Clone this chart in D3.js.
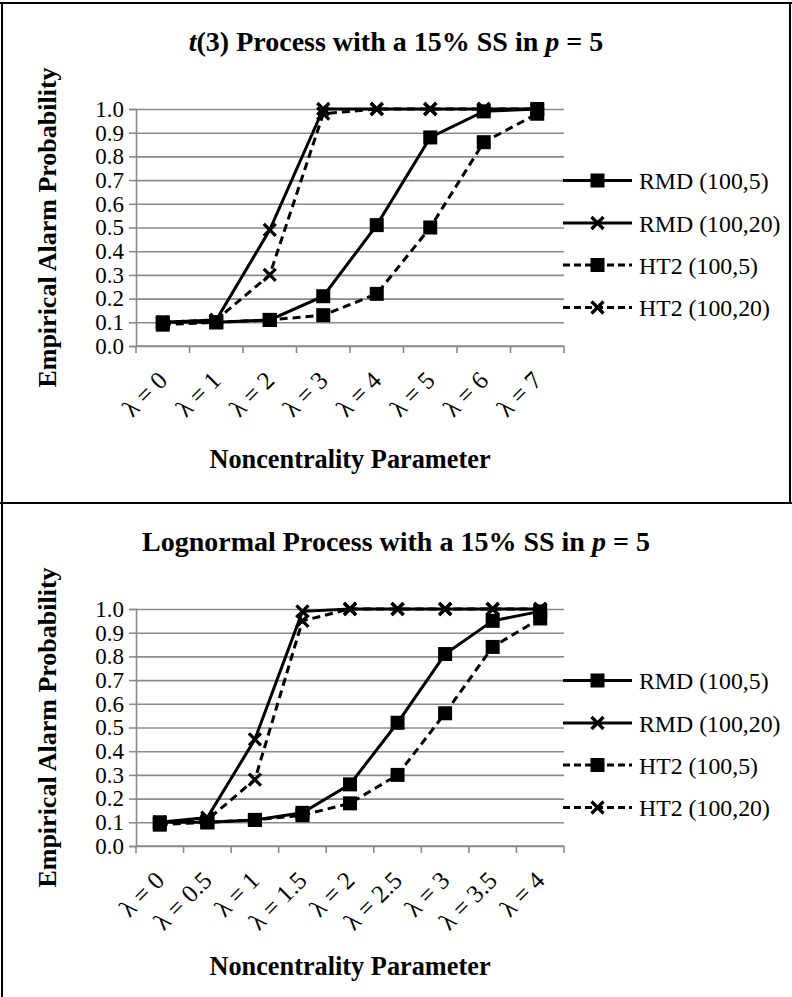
<!DOCTYPE html>
<html>
<head>
<meta charset="utf-8">
<script src="https://cdn.jsdelivr.net/npm/d3@7"></script>
<style>
  body { margin: 0; background: #fff; }
  svg { display: block; }
  text { font-family: "Liberation Serif", "Times New Roman", serif; fill: #000; }
</style>
</head>
<body>
<svg id="chart" width="792" height="997"></svg>
<script>
// ---- data ----
const seriesNames = ["RMD (100,5)", "RMD (100,20)", "HT2 (100,5)", "HT2 (100,20)"];
const yTicks = [0, 0.1, 0.2, 0.3, 0.4, 0.5, 0.6, 0.7, 0.8, 0.9, 1.0];

// t(3) process
const tCategories = ["λ = 0", "λ = 1", "λ = 2", "λ = 3", "λ = 4", "λ = 5", "λ = 6", "λ = 7"];
const tRMD5  = [0.10, 0.10, 0.11, 0.21, 0.51, 0.88, 0.99, 1.00];
const tRMD20 = [0.10, 0.11, 0.49, 1.00, 1.00, 1.00, 1.00, 1.00];
const tHT5   = [0.09, 0.10, 0.11, 0.13, 0.22, 0.50, 0.86, 0.98];
const tHT20  = [0.10, 0.11, 0.30, 0.98, 1.00, 1.00, 1.00, 1.00];

// lognormal process
const lnCategories = ["λ = 0", "λ = 0.5", "λ = 1", "λ = 1.5", "λ = 2", "λ = 2.5", "λ = 3", "λ = 3.5", "λ = 4"];
const lnRMD5  = [0.10, 0.10, 0.11, 0.14, 0.26, 0.52, 0.81, 0.95, 0.99];
const lnRMD20 = [0.10, 0.12, 0.45, 0.99, 1.00, 1.00, 1.00, 1.00, 1.00];
const lnHT5   = [0.09, 0.10, 0.11, 0.13, 0.18, 0.30, 0.56, 0.84, 0.96];
const lnHT20  = [0.10, 0.11, 0.28, 0.95, 1.00, 1.00, 1.00, 1.00, 1.00];

// ---- style ----
const seriesStyle = [
  { marker: "square", dash: null },
  { marker: "cross",  dash: null },
  { marker: "square", dash: "8,5" },
  { marker: "cross",  dash: "8,5" }
];
const gridColor = "#8a8a8a";
const serif = "Liberation Serif, Times New Roman, serif";

const svg = d3.select("#chart");

// panel frame (table cell borders)
const frame = svg.append("g").attr("stroke", "#000").attr("stroke-width", 2);
frame.append("line").attr("x1", 0).attr("x2", 792).attr("y1", 3).attr("y2", 3);
frame.append("line").attr("x1", 0).attr("x2", 792).attr("y1", 503).attr("y2", 503);
frame.append("line").attr("x1", 2).attr("x2", 2).attr("y1", 3).attr("y2", 997);
frame.append("line").attr("x1", 790).attr("x2", 790).attr("y1", 3).attr("y2", 503);

function drawMarker(g, type, x, y) {
  if (type === "square") {
    g.append("rect")
      .attr("x", x - 7).attr("y", y - 7)
      .attr("width", 14).attr("height", 14)
      .attr("fill", "#000");
  } else {
    const s = 6;
    g.append("path")
      .attr("d", `M${x - s},${y - s}L${x + s},${y + s}M${x - s},${y + s}L${x + s},${y - s}`)
      .attr("stroke", "#000").attr("stroke-width", 3.2).attr("fill", "none");
  }
}

function drawPanel(offsetY, categories, seriesValues, titleParts) {
  const g = svg.append("g").attr("transform", `translate(0,${offsetY})`);
  const left = 136, right = 564, top = 109, bottom = 346;

  const x = d3.scaleBand().domain(categories).range([left, right]);
  const y = d3.scaleLinear().domain([0, 1]).range([bottom, top]);

  // title
  const title = g.append("text")
    .attr("x", 396).attr("y", 51)
    .attr("text-anchor", "middle")
    .attr("font-size", 28).attr("font-weight", "bold");
  titleParts.forEach(p => {
    title.append("tspan").attr("font-style", p.italic ? "italic" : "normal").text(p.text);
  });

  // horizontal gridlines
  g.append("g")
    .attr("transform", `translate(${left},0)`)
    .call(d3.axisLeft(y).tickValues(yTicks).tickSize(-(right - left)).tickFormat(""))
    .call(a => a.select(".domain").remove())
    .call(a => a.selectAll("line").attr("stroke", gridColor).attr("stroke-width", 1.6));

  // y axis
  g.append("g")
    .attr("transform", `translate(${left},0)`)
    .call(d3.axisLeft(y).tickValues(yTicks).tickSize(7).tickPadding(5).tickFormat(d3.format(".1f")))
    .call(a => a.select(".domain").attr("stroke", gridColor).attr("stroke-width", 1.6))
    .call(a => a.selectAll("line").attr("stroke", gridColor).attr("stroke-width", 1.6))
    .call(a => a.selectAll("text")
      .attr("font-family", serif)
      .attr("font-size", 23).attr("fill", "#000"));

  // x axis: line, category-boundary ticks, rotated labels
  const xAxis = g.append("g").attr("transform", `translate(0,${bottom})`);
  xAxis.append("line")
    .attr("x1", left).attr("x2", right)
    .attr("stroke", gridColor).attr("stroke-width", 1.6);
  const bounds = d3.range(categories.length + 1).map(i => left + i * x.step());
  xAxis.selectAll("line.tick").data(bounds).join("line")
    .attr("class", "tick")
    .attr("x1", d => d).attr("x2", d => d)
    .attr("y1", 0).attr("y2", 7)
    .attr("stroke", gridColor).attr("stroke-width", 1.6);

  const labels = g.append("g")
    .attr("transform", `translate(0,${bottom})`)
    .call(d3.axisBottom(x).tickSize(0).tickPadding(0))
    .call(a => a.select(".domain").remove());
  labels.selectAll("text")
    .attr("font-family", serif)
    .attr("font-size", 25).attr("fill", "#000")
    .attr("text-anchor", "end")
    .attr("y", 0).attr("dy", 0)
    .attr("transform", "translate(6,36) rotate(-45)");

  // axis titles
  g.append("text")
    .attr("x", (left + right) / 2)
    .attr("y", categories.length > 8 ? 475 : 468)
    .attr("text-anchor", "middle")
    .attr("font-size", 26.3).attr("font-weight", "bold")
    .text("Noncentrality Parameter");

  g.append("text")
    .attr("transform", `translate(56,${(top + bottom) / 2}) rotate(-90)`)
    .attr("text-anchor", "middle")
    .attr("font-size", 26).attr("font-weight", "bold")
    .text("Empirical Alarm Probability");

  // series lines and markers
  const cx = c => x(c) + x.bandwidth() / 2;
  const line = d3.line().x((d, i) => cx(categories[i])).y(d => y(d));
  seriesValues.forEach((vals, si) => {
    const st = seriesStyle[si];
    const sg = g.append("g");
    sg.append("path")
      .attr("d", line(vals))
      .attr("fill", "none").attr("stroke", "#000").attr("stroke-width", 3)
      .attr("stroke-dasharray", st.dash);
    vals.forEach((v, i) => drawMarker(sg, st.marker, cx(categories[i]), y(v)));
  });

  // legend
  const legendYs = [180.5, 223, 265, 307.5];
  seriesNames.forEach((name, si) => {
    const st = seriesStyle[si];
    const lg = g.append("g");
    const ly = legendYs[si];
    lg.append("line")
      .attr("x1", 563).attr("x2", 632).attr("y1", ly).attr("y2", ly)
      .attr("stroke", "#000").attr("stroke-width", 3)
      .attr("stroke-dasharray", st.dash ? "7,4" : null);
    drawMarker(lg, st.marker, 597.5, ly);
    lg.append("text")
      .attr("x", 639).attr("y", ly + 8.5)
      .attr("font-size", 23.8)
      .text(name);
  });
}

const tSeries = [tRMD5, tRMD20, tHT5, tHT20];
const lnSeries = [lnRMD5, lnRMD20, lnHT5, lnHT20];

drawPanel(0, tCategories, tSeries, [
  { text: "t", italic: true },
  { text: "(3) Process with a 15% SS in " },
  { text: "p", italic: true },
  { text: " = 5" }
]);

drawPanel(500, lnCategories, lnSeries, [
  { text: "Lognormal Process with a 15% SS in " },
  { text: "p", italic: true },
  { text: " = 5" }
]);
</script>
</body>
</html>
